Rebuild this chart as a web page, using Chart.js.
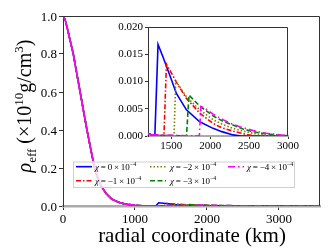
<!DOCTYPE html>
<html>
<head>
<meta charset="utf-8">
<script src="https://cdn.jsdelivr.net/npm/chart.js@4.4.0/dist/chart.umd.min.js"></script>
<style>
html, body { margin: 0; padding: 0; background: #fff; }
#wrap { position: relative; width: 332px; height: 249px; }
#main { position: absolute; left: 0; top: 0; }
#inset { position: absolute; left: 100px; top: 14px; }
#ylab { position: absolute; left: 0; top: 0; z-index: 2; pointer-events: none; }
</style>
</head>
<body>
<div id="wrap">
  <canvas id="main" width="332" height="249"></canvas>
  <canvas id="inset" width="200" height="146"></canvas>
  <canvas id="ylab" width="62" height="249"></canvas>
</div>
<script>
// chi values (x 10^-4) for the five runs
const chiLabels = ['0', '\u22121', '\u22122', '\u22123', '\u22124'];

// shared core profile (km, 10^10 g/cm^3)
const coreR   = [0, 30, 60, 100, 143, 190, 238, 285, 333, 385, 438, 480, 524, 600, 676, 770, 866, 1000, 1100, 1200, 1250];
const coreRho = [1.0, 0.98, 0.935, 0.87, 0.8, 0.7, 0.6, 0.5, 0.4, 0.3, 0.2, 0.15, 0.11, 0.065, 0.037, 0.02, 0.01, 0.004, 0.0015, 0.0005, 0.0002];

// outer shells, one per chi
const tailR0   = [1288, 1329, 1393, 1479, 1565, 1694, 1865, 2036, 2150, 2293, 2400, 3600];
const tailRho0 = [0, 0.0168, 0.0145, 0.0112, 0.0078, 0.0048, 0.0026, 0.0014, 0.0008, 0.0002, 0, 0];
const tailR1   = [1405, 1437, 1565, 1694, 1865, 2036, 2150, 2293, 2486, 2600, 3600];
const tailRho1 = [0, 0.0132, 0.0099, 0.0069, 0.0042, 0.0023, 0.0015, 0.0009, 0.0002, 0, 0];
const tailR2   = [1535, 1556, 1694, 1865, 2036, 2164, 2293, 2421, 2550, 2721, 2800, 3600];
const tailRho2 = [0, 0.0101, 0.0072, 0.0048, 0.0030, 0.0021, 0.0014, 0.0009, 0.0005, 0.0001, 0, 0];
const tailR3   = [1695, 1727, 1865, 2036, 2164, 2293, 2421, 2550, 2700, 2850, 3000, 3600];
const tailRho3 = [0, 0.0075, 0.0055, 0.0037, 0.0027, 0.0020, 0.0013, 0.0008, 0.0004, 0.0002, 0.00005, 0];
const tailR4   = [1860, 1880, 1933, 2036, 2164, 2263, 2379, 2550, 2720, 2893, 3000, 3600];
const tailRho4 = [0, 0.0054, 0.0051, 0.0040, 0.0030, 0.0023, 0.0017, 0.0010, 0.0005, 0.0002, 0.0001, 0];

const mainXTicks = [0, 1000, 2000, 3000];
const mainYTicks = [0, 0.2, 0.4, 0.6, 0.8, 1.0];
const mainYLabels = ['0.0', '0.2', '0.4', '0.6', '0.8', '1.0'];
const insetXTicks = [1500, 2000, 2500, 3000];
const insetYTicks = [0, 0.005, 0.01, 0.015, 0.02];

const tails = [[tailR0, tailRho0], [tailR1, tailRho1], [tailR2, tailRho2], [tailR3, tailRho3], [tailR4, tailRho4]];
const colors = ['#0000ff', '#ff0000', '#808000', '#008000', '#ff00ff'];
const dashes = [[], [5, 2, 1.5, 2], [1.5, 2], [5, 2.5], [7, 3, 1.5, 3]];

const SERIF = '"Liberation Serif", "Times New Roman", serif';

function buildData() {
    return tails.map((t, i) => {
        const pts = coreR.map((r, k) => ({ x: r, y: coreRho[k] }));
        t[0].forEach((r, k) => pts.push({ x: r, y: t[1][k] }));
        const ds = {
            label: chiLabels[i],
            data: pts,
            borderColor: colors[i],
            borderDash: dashes[i],
            borderWidth: 1.6,
            pointRadius: 0,
            tension: 0,
            fill: false,
            order: tails.length - 1 - i   // later runs on top, like matplotlib
        };
        // the last run covers the shared core as an unbroken line
        if (i === tails.length - 1) {
            ds.segment = { borderDash: c => (c.p1.parsed.x <= 1300 ? [] : undefined) };
        }
        return ds;
    });
}

function drawRich(ctx, parts, x, y, align) {
    let w = 0;
    parts.forEach(p => { ctx.font = p.f; w += ctx.measureText(p.t).width; });
    let cx = align === 'center' ? x - w / 2 : x;
    parts.forEach(p => {
        ctx.font = p.f;
        ctx.fillText(p.t, cx, y + (p.dy || 0));
        cx += ctx.measureText(p.t).width;
    });
}

function drawLeftStrip(chart) {
    const a = chart.chartArea;
    const ys = chart.scales.y;
    const lc = document.getElementById('ylab').getContext('2d');
    lc.setTransform(1, 0, 0, 1, 0, 0);
    lc.clearRect(0, 0, 62, 249);
    lc.globalAlpha = 1;
    lc.globalCompositeOperation = 'source-over';
    lc.fillStyle = '#000000';
    lc.textAlign = 'left';
    lc.textBaseline = 'alphabetic';
    lc.font = '13px ' + SERIF;
    mainYTicks.forEach((v, k) => {
        let py = Number(ys.getPixelForValue(v));
        if (!isFinite(py)) py = a.bottom - (v / 1.0) * (a.bottom - a.top);
        const txt = mainYLabels[k];
        const w = lc.measureText(txt).width;
        lc.fillText(txt, 57 - w, Math.round(py + 4.5));
    });

    lc.save();
    lc.translate(31, 106);
    lc.rotate(-Math.PI / 2);
    drawRich(lc, [
        { t: '\u03c1', f: 'italic 20px ' + SERIF },
        { t: 'eff', f: '13px ' + SERIF, dy: 5 },
        { t: ' (\u00d710', f: '20px ' + SERIF },
        { t: '10', f: '13px ' + SERIF, dy: -8 },
        { t: 'g/cm', f: '20px ' + SERIF },
        { t: '3', f: '13px ' + SERIF, dy: -8 },
        { t: ')', f: '20px ' + SERIF }
    ], 0, 0, 'center');
    lc.restore();
}

const mainDecor = {
    id: 'mainDecor',
    afterDraw(chart) {
        const ctx = chart.ctx;
        const a = chart.chartArea;
        ctx.save();
        ctx.setLineDash([]);
        ctx.strokeStyle = '#333';
        ctx.lineWidth = 1;
        ctx.beginPath();
        ctx.moveTo(a.left, a.top + 0.5);
        ctx.lineTo(a.right - 0.5, a.top + 0.5);
        ctx.lineTo(a.right - 0.5, a.bottom);
        ctx.stroke();

        ctx.fillStyle = '#000';
        ctx.textBaseline = 'alphabetic';
        ctx.font = '21px ' + SERIF;
        ctx.textAlign = 'center';
        ctx.fillText('radial coordinate (km)', 192, 242);
        ctx.textAlign = 'left';

        // legend
        const bx = 73, by = 161.5, bw = 221, bh = 25.5;
        ctx.fillStyle = 'rgba(255,255,255,0.8)';
        ctx.strokeStyle = '#d0d0d0';
        ctx.lineWidth = 1;
        ctx.fillRect(bx, by, bw, bh);
        ctx.strokeRect(bx + 0.5, by + 0.5, bw, bh);

        const slots = [
            { sx: 76, tx: 95, y: 166.7 },
            { sx: 76, tx: 95, y: 180.7 },
            { sx: 150, tx: 170, y: 166.7 },
            { sx: 150, tx: 170, y: 180.7 },
            { sx: 228, tx: 247, y: 166.7 }
        ];
        chart.data.datasets.forEach((ds, i) => {
            const s = slots[i];
            ctx.strokeStyle = ds.borderColor;
            ctx.lineWidth = 1.6;
            ctx.setLineDash(ds.borderDash);
            ctx.beginPath();
            ctx.moveTo(s.sx, s.y);
            ctx.lineTo(s.sx + 16, s.y);
            ctx.stroke();
            ctx.setLineDash([]);
            ctx.fillStyle = '#000';
            drawRich(ctx, [
                { t: '\u03c7', f: 'italic 9px ' + SERIF },
                { t: '\u2009=\u2009' + ds.label + '\u2009\u00d7\u200910', f: '9px ' + SERIF },
                { t: '\u22124', f: '6px ' + SERIF, dy: -3.5 }
            ], s.tx, s.y + 3, 'left');
        });
        ctx.restore();

        drawLeftStrip(chart);
    }
};

const insetDecor = {
    id: 'insetDecor',
    afterDraw(chart) {
        const ctx = chart.ctx;
        const a = chart.chartArea;
        ctx.save();
        ctx.setLineDash([]);
        ctx.strokeStyle = '#333';
        ctx.lineWidth = 1;
        ctx.beginPath();
        ctx.moveTo(a.left, a.top + 0.5);
        ctx.lineTo(a.right - 0.5, a.top + 0.5);
        ctx.lineTo(a.right - 0.5, a.bottom);
        ctx.stroke();
        ctx.restore();
    }
};

function axisOpts(o) {
    return {
        type: 'linear',
        min: o.min,
        max: o.max,
        afterBuildTicks: s => { s.ticks = o.ticks.map(v => ({ value: v })); },
        afterFit: o.fit,
        ticks: {
            display: o.show !== false,
            color: '#000',
            font: { family: SERIF, size: o.size },
            padding: o.pad,
            callback: o.fmt
        },
        grid: { drawOnChartArea: false, tickLength: o.tl, color: '#333' },
        border: { color: o.bc, width: o.bw }
    };
}

const mainChart = new Chart(document.getElementById('main').getContext('2d'), {
    type: 'line',
    data: { datasets: buildData() },
    options: {
        responsive: false,
        animation: false,
        parsing: false,
        layout: { padding: { top: 16, right: 12, left: 0, bottom: 0 } },
        plugins: { legend: { display: false }, tooltip: { enabled: false } },
        scales: {
            x: axisOpts({ min: 0, max: 3570, ticks: mainXTicks, size: 13, pad: 2, tl: 4, bc: '#aaaaaa', bw: 2.5,
                fit: s => { s.height = 43; }, fmt: v => String(v) }),
            y: axisOpts({ min: 0, max: 1, ticks: mainYTicks, size: 13, pad: 2, tl: 4, bc: '#333', bw: 1, show: false,
                fit: s => { s.width = 63; }, fmt: v => v.toFixed(1) })
        }
    },
    plugins: [mainDecor]
});

new Chart(document.getElementById('inset').getContext('2d'), {
    type: 'line',
    data: { datasets: buildData() },
    options: {
        responsive: false,
        animation: false,
        parsing: false,
        layout: { padding: { top: 13, right: 12, left: 0, bottom: 0 } },
        plugins: { legend: { display: false }, tooltip: { enabled: false } },
        scales: {
            x: axisOpts({ min: 1200, max: 3000, ticks: insetXTicks, size: 11, pad: 1, tl: 3, bc: '#aaaaaa', bw: 2,
                fit: s => { s.height = 24; }, fmt: v => String(v) }),
            y: axisOpts({ min: 0, max: 0.02, ticks: insetYTicks, size: 11, pad: 2, tl: 3, bc: '#333', bw: 1,
                fit: s => { s.width = 48; }, fmt: v => v.toFixed(3) })
        }
    },
    plugins: [insetDecor]
});

// redraw the left strip once fonts are settled
setTimeout(() => drawLeftStrip(mainChart), 50);
</script>
</body>
</html>
